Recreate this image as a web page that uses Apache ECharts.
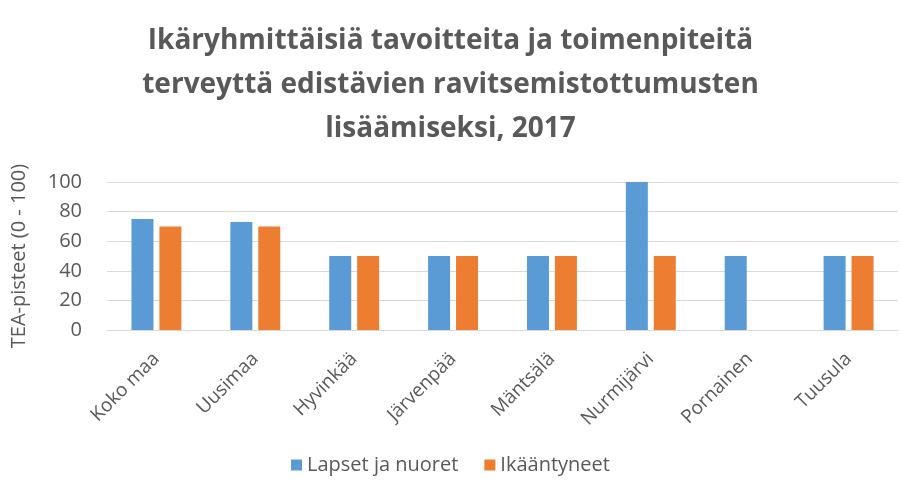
<!DOCTYPE html>
<html>
<head>
<meta charset="utf-8">
<script src="https://cdn.jsdelivr.net/npm/echarts@6/dist/echarts.min.js"></script>
<style>
  html, body { margin: 0; padding: 0; background: #fff; }
  #chart { width: 901px; height: 483px; }
</style>
</head>
<body>
<div id="chart"></div>
<script>
const categories = ['Koko maa', 'Uusimaa', 'Hyvinkää', 'Järvenpää', 'Mäntsälä', 'Nurmijärvi', 'Pornainen', 'Tuusula']
const lapset = [75, 73, 50, 50, 50, 100, 50, 50]
const ikaantyneet = [70, 70, 50, 50, 50, 50, null, 50]
const yTicks = { min: 0, max: 100, interval: 20 }

const font = '"Open Sans", "Noto Sans", sans-serif'
const textColor = '#595959'

const chart = echarts.init(document.getElementById('chart'))
chart.setOption({
  animation: false,
  title: {
    text: 'Ikäryhmittäisiä tavoitteita ja toimenpiteitä\nterveyttä edistävien ravitsemistottumusten\nlisäämiseksi, 2017',
    left: 'center',
    top: 14,
    textStyle: { color: textColor, fontFamily: font, fontSize: 28, fontWeight: 'bold', lineHeight: 44 }
  },
  legend: {
    data: ['Lapset ja nuoret', 'Ikääntyneet'],
    bottom: 3,
    left: 'center',
    icon: 'rect',
    itemWidth: 11,
    itemHeight: 11,
    itemGap: 26,
    textStyle: { color: textColor, fontFamily: font, fontSize: 20 }
  },
  grid: { left: 107, right: 3, top: 182, bottom: 153, containLabel: false },
  xAxis: {
    type: 'category',
    data: categories,
    axisLine: { lineStyle: { color: '#d9d9d9' } },
    axisTick: { show: false },
    axisLabel: { color: textColor, fontFamily: font, fontSize: 19, rotate: 45, interval: 0, margin: 26 }
  },
  yAxis: {
    type: 'value',
    min: yTicks.min,
    max: yTicks.max,
    interval: yTicks.interval,
    name: 'TEA-pisteet (0 - 100)',
    nameLocation: 'middle',
    nameGap: 78,
    nameTextStyle: { color: textColor, fontFamily: font, fontSize: 20 },
    axisLine: { show: false },
    axisTick: { show: false },
    axisLabel: { color: textColor, fontFamily: font, fontSize: 20, margin: 25 },
    splitLine: { lineStyle: { color: '#d9d9d9' } }
  },
  series: [
    {
      name: 'Lapset ja nuoret',
      type: 'bar',
      data: lapset,
      barWidth: 22,
      barGap: '27%',
      itemStyle: { color: '#5b9bd5' }
    },
    {
      name: 'Ikääntyneet',
      type: 'bar',
      data: ikaantyneet,
      barWidth: 22,
      itemStyle: { color: '#ed7d31' }
    }
  ]
})
</script>
</body>
</html>
